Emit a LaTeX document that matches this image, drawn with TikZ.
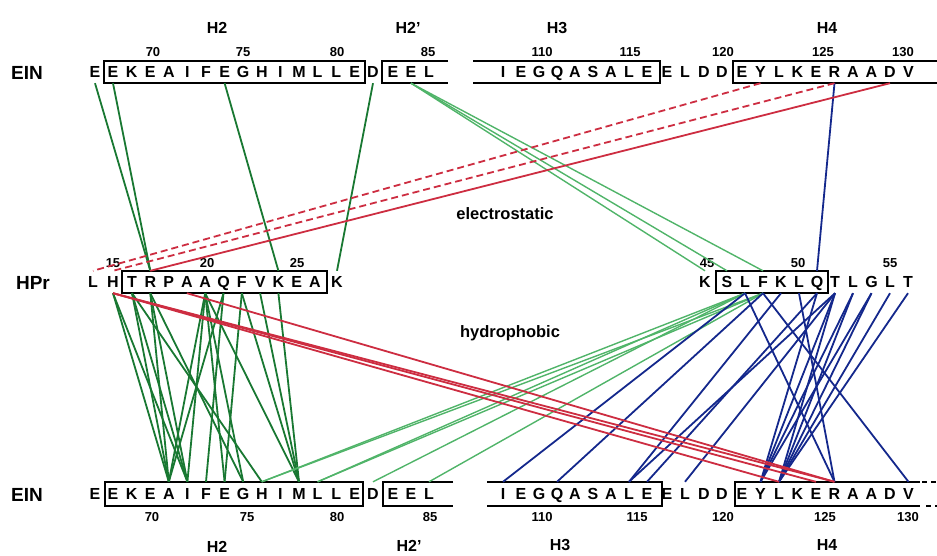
\documentclass[tikz,border=0pt]{standalone}
\usepackage{fontspec}
\setmainfont{Liberation Sans}
\definecolor{dgc}{RGB}{25,120,50}
\definecolor{lgc}{RGB}{80,180,105}
\definecolor{nbc}{RGB}{20,40,140}
\definecolor{rdc}{RGB}{205,45,65}
\begin{document}
\begin{tikzpicture}[x=1pt,y=-1pt,
  res/.style={font=\fontsize{16}{16}\selectfont\bfseries, inner sep=0pt, text height=11.5pt, text depth=0pt, minimum height=22pt},
  resb/.style={res, minimum height=24pt},
  num/.style={font=\fontsize{13}{13}\selectfont\bfseries, inner sep=0pt},
  hel/.style={font=\fontsize{16}{16}\selectfont\bfseries, inner sep=0pt},
  prot/.style={font=\fontsize{19}{19}\selectfont\bfseries, inner sep=0pt},
  kind/.style={font=\fontsize{16.5}{16.5}\selectfont\bfseries, inner sep=0pt},
  boxl/.style={draw=black, line width=1.2pt},
  con/.style={line width=1.8pt},
  dg/.style={con, draw=dgc},
  lg/.style={con, draw=lgc, line width=1.4pt},
  nb/.style={con, draw=nbc},
  rd/.style={con, draw=rdc},
  rdd/.style={rd, dash pattern=on 7pt off 4pt}
]
\useasboundingbox (0,0) rectangle (937,556);

% ---------------- EIN residues (top and bottom rows) ----------------
\foreach \n/\l/\x in {67/E/95, 68/E/113, 69/K/131.6, 70/E/150.2, 71/A/168.8, 72/I/187.4,
  73/F/206, 74/E/224.6, 75/G/243.2, 76/H/261.8, 77/I/280.4, 78/M/299, 79/L/317.6,
  80/L/336.2, 81/E/354.8, 82/D/373, 83/E/393, 84/E/411, 85/L/429,
  108/I/503, 109/E/521, 110/G/539, 111/Q/557, 112/A/575, 113/S/593, 114/A/611,
  115/L/629, 116/E/647, 117/E/667, 118/L/685, 119/D/704, 120/D/722,
  121/E/742, 122/Y/760.5, 123/L/779, 124/K/797.5, 125/E/816, 126/R/834.5,
  127/A/853, 128/A/871.5, 129/D/890, 130/V/908.5}
{
  \node[res] (t\n) at (\x,72) {\l};
  \node[resb] (b\n) at (\x,494) {\l};
}

% ---------------- HPr residues ----------------
\foreach \n/\l/\x in {14/L/93, 15/H/113, 16/T/132, 17/R/150.3, 18/P/168.6, 19/A/186.9,
  20/A/205.2, 21/Q/223.5, 22/F/241.8, 23/V/260.1, 24/K/278.4, 25/E/296.7, 26/A/315,
  27/K/337, 45/K/705, 46/S/727, 47/L/745, 48/F/763, 49/K/781, 50/L/799, 51/Q/817,
  52/T/835, 53/L/853, 54/G/871.5, 55/L/890, 56/T/908}
{
  \node[res] (h\n) at (\x,282) {\l};
}

% ---------------- helix boxes ----------------
\draw[boxl] (104,61) rectangle (365,83);
\draw[boxl] (448,61) -- (382,61) -- (382,83) -- (448,83);
\draw[boxl] (473,61) -- (660,61) -- (660,83) -- (473,83);
\draw[boxl] (937,61) -- (733,61) -- (733,83) -- (937,83);

\draw[boxl] (122,271) rectangle (327,293);
\draw[boxl] (716,271) rectangle (828,293);

\draw[boxl] (105,482) rectangle (363,506);
\draw[boxl] (453,482) -- (383,482) -- (383,506) -- (453,506);
\draw[boxl] (487,482) -- (662,482) -- (662,506) -- (487,506);
\draw[boxl] (920,482) -- (735,482) -- (735,506) -- (920,506);
\draw[boxl, dash pattern=on 5pt off 4pt] (922,482) -- (937,482);
\draw[boxl, dash pattern=on 5pt off 4pt] (926,506) -- (937,506);

% ---------------- labels ----------------
\node[prot] (einT) at (27,73) {EIN};
\node[prot] (hpr) at (33,283) {HPr};
\node[prot] (einB) at (27,495) {EIN};

\node[hel] (h2T) at (217,28) {H2};
\node[hel] (h2pT) at (408,28) {H2'};
\node[hel] (h3T) at (557,28) {H3};
\node[hel] (h4T) at (827,28) {H4};
\node[hel] (h2B) at (217,547) {H2};
\node[hel] (h2pB) at (409,546) {H2'};
\node[hel] (h3B) at (560,545) {H3};
\node[hel] (h4B) at (827,545) {H4};

\foreach \t/\x in {70/153, 75/243, 80/337, 85/428, 110/542, 115/630, 120/723, 125/823, 130/903}
  \node[num] (nt\t) at (\x,52) {\t};
\foreach \t/\x in {70/152, 75/247, 80/337, 85/430, 110/542, 115/637, 120/723, 125/825, 130/908}
  \node[num] (nb\t) at (\x,517) {\t};
\foreach \t/\x in {15/113, 20/207, 25/297, 45/707, 50/798, 55/890}
  \node[num] (nh\t) at (\x,263) {\t};

\node[kind] (elec) at (505,214) {electrostatic};
\node[kind] (hyd) at (510,333) {hydrophobic};

% ---------------- EIN (top) -> HPr ----------------
\draw[dg] (t67.south) -- (h17.north);
\draw[dg] (t68.south) -- (h17.north);
\draw[dg] (t74.south) -- (h24.north);
\draw[dg] (t82.south) -- (h27.north);

\draw[lg] (t84.south) -- (h45.north);
\draw[lg] (t84.south) -- (h46.north);
\draw[lg] (t84.south) -- (h48.north);

\draw[nb] (t126.south) -- (h51.north);

\draw[rdd] (t122.south) -- (h14.north);
\draw[rdd] (t126.south) -- (h15.north);
\draw[rd] (t129.south) -- (h17.north);

% ---------------- HPr -> EIN (bottom) ----------------
\foreach \a/\b in {15/71, 15/72, 16/71, 16/72, 16/76, 17/71, 17/72, 17/75,
  20/71, 20/72, 20/74, 20/75, 20/78, 21/71, 21/73, 22/74, 22/78, 23/78, 24/78}
  \draw[dg] (h\a.south) -- (b\b.north);

\foreach \a/\b in {47/76, 48/76, 47/79, 48/79, 47/82, 48/85}
  \draw[lg] (h\a.south) -- (b\b.north);

\foreach \a/\b in {47/108, 48/111, 49/115, 51/116, 52/115, 52/118, 47/126, 48/130,
  50/126, 52/122, 52/123, 53/122, 53/123, 54/122, 54/123, 55/123, 56/123, 51/122}
  \draw[nb] (h\a.south) -- (b\b.north);

\foreach \a/\b in {15/125, 15/126, 15/123, 19/126}
  \draw[rd] (h\a.south) -- (b\b.north);

\end{tikzpicture}
\end{document}
